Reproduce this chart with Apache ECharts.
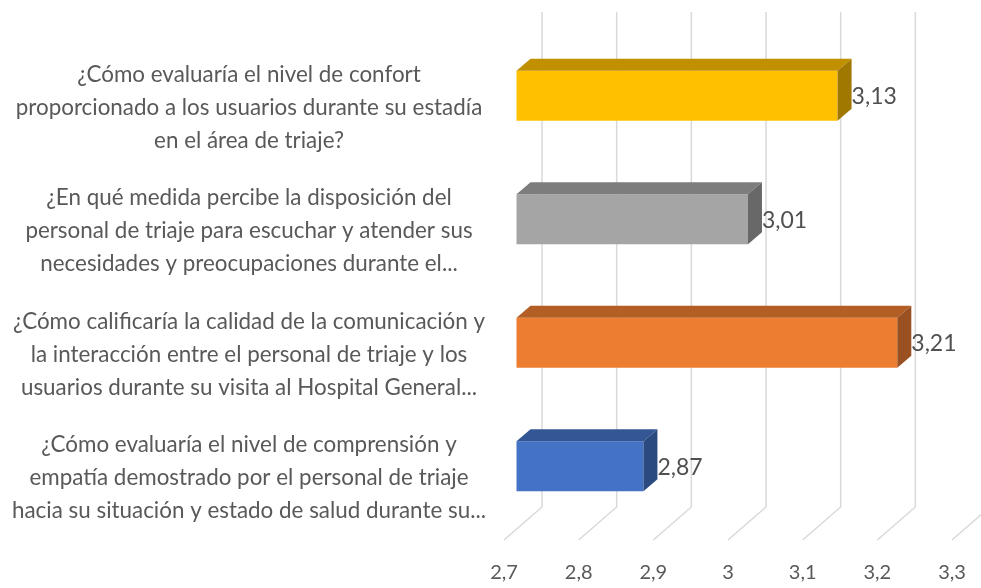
<!DOCTYPE html>
<html>
<head>
<meta charset="utf-8">
<script src="https://cdn.jsdelivr.net/npm/echarts@6/dist/echarts.min.js"></script>
<style>
html,body{margin:0;padding:0;background:#fff;}
#chart{width:981px;height:588px;}
</style>
</head>
<body>
<div id="chart"></div>
<script>
const categories = [
  "¿Cómo evaluaría el nivel de confort\nproporcionado a los usuarios durante su estadía\nen el área de triaje?",
  "¿En qué medida percibe la disposición del\npersonal de triaje para escuchar y atender sus\nnecesidades y preocupaciones durante el...",
  "¿Cómo calificaría la calidad de la comunicación y\nla interacción entre el personal de triaje y los\nusuarios durante su visita al Hospital General...",
  "¿Cómo evaluaría el nivel de comprensión y\nempatía demostrado por el personal de triaje\nhacia su situación y estado de salud durante su..."
];
const values = [3.13, 3.01, 3.21, 2.87];
const tickValues = [2.7, 2.8, 2.9, 3.0, 3.1, 3.2, 3.3];
const frontColors = ["#FFC000", "#A5A5A5", "#ED7D31", "#4472C4"];
const topColors = ["#C09000", "#7D7D7D", "#B35E25", "#335695"];
const sideColors = ["#A07800", "#686868", "#9A5020", "#2B4A80"];

const FONT = "Lato, 'Open Sans', sans-serif";
const chart = echarts.init(document.getElementById('chart'));

chart.setOption({
  animation: false,
  backgroundColor: '#ffffff',
  grid: { left: 504, right: 29, top: 46, bottom: 48, containLabel: false },
  xAxis: {
    type: 'value', min: 2.7, max: 3.3, interval: 0.1,
    axisLine: { show: false }, axisTick: { show: false }, splitLine: { show: false },
    axisLabel: {
      margin: 23, fontSize: 20, color: '#595959', fontFamily: FONT,
      formatter: v => String(Math.round(v * 10) / 10).replace('.', ',')
    }
  },
  yAxis: {
    type: 'category', data: categories, inverse: true,
    axisLine: { show: false }, axisTick: { show: false }, splitLine: { show: false },
    axisLabel: {
      margin: 255, align: 'center', fontSize: 22.4, lineHeight: 33,
      color: '#595959', fontFamily: FONT
    }
  },
  series: [
    {
      type: 'custom',
      z: 1,
      silent: true,
      data: tickValues.map(v => [v, 0]),
      renderItem: function (params, api) {
        const cs = params.coordSys;
        const x = api.coord([api.value(0), 0])[0];
        const yBottom = cs.y + cs.height;
        return {
          type: 'polyline',
          shape: { points: [[x + 38, cs.y - 34], [x + 38, yBottom - 33], [x, yBottom]] },
          style: { stroke: '#D9D9D9', lineWidth: 1.5, fill: null }
        };
      }
    },
    {
      type: 'custom',
      z: 5,
      data: values.map((v, i) => [v, i]),
      renderItem: function (params, api) {
        const v = api.value(0), c = api.value(1);
        const p0 = api.coord([2.7, c]);
        const p1 = api.coord([v, c]);
        const xl = p0[0] + 12.5, xr = p1[0] + 12.5;
        const yt = p0[1] - 37, yb = p0[1] + 13;
        const dx = 14, dy = -12;
        const idx = params.dataIndex;
        return {
          type: 'group',
          children: [
            { type: 'rect', shape: { x: xl, y: yt, width: xr - xl, height: yb - yt },
              style: { fill: frontColors[idx] } },
            { type: 'polygon', shape: { points: [[xl, yt], [xr, yt], [xr + dx, yt + dy], [xl + dx, yt + dy]] },
              style: { fill: topColors[idx] } },
            { type: 'polygon', shape: { points: [[xr, yt], [xr + dx, yt + dy], [xr + dx, yb + dy], [xr, yb]] },
              style: { fill: sideColors[idx] } },
            { type: 'text', style: {
                x: xr + dx, y: (yt + yb) / 2 + 1,
                text: String(v.toFixed(2)).replace('.', ','),
                fill: '#505050', fontSize: 23, fontFamily: FONT,
                align: 'left', verticalAlign: 'middle' } }
          ]
        };
      }
    }
  ]
});
</script>
</body>
</html>
